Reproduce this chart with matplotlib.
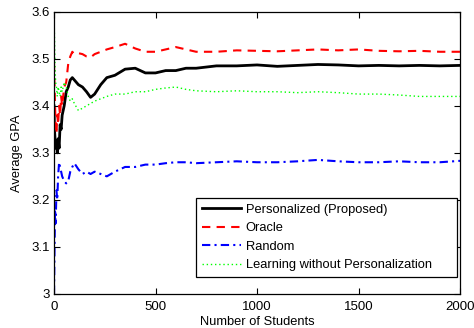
import matplotlib
matplotlib.use('Agg')
import matplotlib.pyplot as plt

plt.rcParams['font.family'] = ['Liberation Sans', 'DejaVu Sans']

# number of students at which the curves were read
students = [0, 2, 5, 8, 12, 16, 20, 25, 30, 35, 40, 50, 60, 70, 80, 90, 100,
            120, 140, 160, 180, 200, 230, 260, 300, 350, 400, 450, 500, 550,
            600, 650, 700, 800, 900, 1000, 1100, 1200, 1300, 1400, 1500, 1600,
            1700, 1800, 1900, 2000]

personalized = [3.40, 3.35, 3.33, 3.31, 3.32, 3.30, 3.33, 3.31, 3.36, 3.35, 3.38,
                3.40, 3.43, 3.44, 3.455, 3.46, 3.455, 3.445, 3.44, 3.43, 3.418,
                3.425, 3.445, 3.46, 3.465, 3.478, 3.48, 3.47, 3.47, 3.475, 3.475,
                3.48, 3.48, 3.485, 3.485, 3.487, 3.484, 3.486, 3.488, 3.487,
                3.485, 3.486, 3.485, 3.486, 3.485, 3.486]

oracle = [3.49, 3.45, 3.40, 3.36, 3.34, 3.38, 3.36, 3.40, 3.38, 3.42, 3.40,
          3.44, 3.45, 3.49, 3.505, 3.515, 3.51, 3.512, 3.51, 3.505, 3.503,
          3.51, 3.515, 3.52, 3.525, 3.532, 3.522, 3.515, 3.515, 3.52, 3.525,
          3.52, 3.515, 3.515, 3.518, 3.517, 3.516, 3.518, 3.52, 3.518, 3.52,
          3.517, 3.516, 3.517, 3.515, 3.515]

random_sel = [3.00, 3.08, 3.18, 3.15, 3.22, 3.20, 3.25, 3.28, 3.27, 3.26, 3.25,
              3.24, 3.235, 3.24, 3.26, 3.27, 3.278, 3.265, 3.255, 3.26, 3.255,
              3.26, 3.255, 3.25, 3.26, 3.27, 3.27, 3.275, 3.275, 3.278, 3.28,
              3.28, 3.278, 3.28, 3.282, 3.28, 3.28, 3.282, 3.285, 3.282, 3.28,
              3.28, 3.282, 3.28, 3.28, 3.283]

no_personal = [3.60, 3.55, 3.48, 3.45, 3.44, 3.42, 3.44, 3.43, 3.42, 3.44, 3.43,
               3.45, 3.44, 3.42, 3.41, 3.415, 3.405, 3.39, 3.395, 3.40, 3.405,
               3.41, 3.415, 3.42, 3.425, 3.425, 3.43, 3.43, 3.435, 3.438, 3.44,
               3.435, 3.432, 3.43, 3.432, 3.43, 3.43, 3.428, 3.43, 3.428, 3.425,
               3.425, 3.423, 3.42, 3.42, 3.42]

xticks = [0, 500, 1000, 1500, 2000]
yticks = [3.0, 3.1, 3.2, 3.3, 3.4, 3.5, 3.6]
ytick_labels = ['3', '3.1', '3.2', '3.3', '3.4', '3.5', '3.6']

fig = plt.figure(figsize=(4.74, 3.28), dpi=100)
ax = fig.add_axes([0.114, 0.104, 0.8565, 0.86])

ax.plot(students, personalized, color='black', lw=2.0, ls='-', label='Personalized (Proposed)')
ax.plot(students, oracle, color='red', lw=1.5, ls=(0, (4, 3)), label='Oracle')
ax.plot(students, random_sel, color='blue', lw=1.5, ls=(0, (4, 2, 1, 2)), label='Random')
ax.plot(students, no_personal, color=(0, 1, 0), lw=1.0, ls=(0, (1, 2)),
        label='Learning without Personalization')

ax.set_xlim(0, 2000)
ax.set_ylim(3.0, 3.6)
ax.set_xticks(xticks)
ax.set_yticks(yticks)
ax.set_yticklabels(ytick_labels)
ax.tick_params(direction='in', top=True, right=True, labelsize=9.5, length=4, width=0.8)
ax.tick_params(axis='x', pad=5)
ax.tick_params(axis='y', pad=3)
for s in ax.spines.values():
    s.set_linewidth(0.9)

ax.set_xlabel('Number of Students', fontsize=9.3, labelpad=2.5)
ax.set_ylabel('Average GPA', fontsize=9.3, labelpad=6)

# legend stretched to the width of the matlab-style box
leg = ax.legend(loc='lower left', bbox_to_anchor=(0.350, 0.060, 0.643, 0.2),
                mode='expand', fontsize=9.3, fancybox=False, framealpha=1,
                edgecolor='black', borderpad=0.45, labelspacing=0.5,
                handlelength=3.0, handletextpad=0.4, borderaxespad=0)
leg.get_frame().set_linewidth(0.9)

fig.savefig('out.png', dpi=100)
